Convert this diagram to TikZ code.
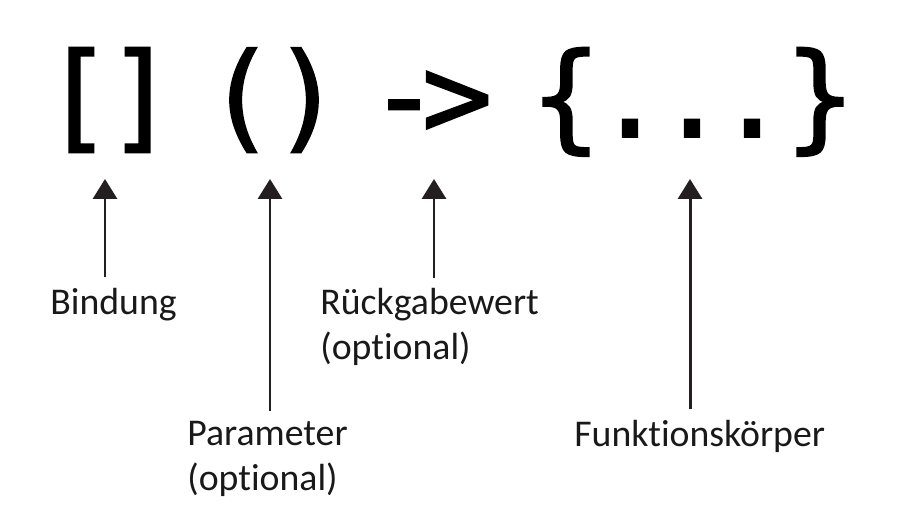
\documentclass[tikz,border=0pt]{standalone}
\usepackage{fontspec}
\setmainfont{Carlito}[Ligatures=NoCommon]
\newfontfamily\codefont{DejaVu Sans Mono}[FakeBold=1.5]
\usetikzlibrary{arrows.meta}
\definecolor{inkgray}{HTML}{231F20}
\tikzset{
  glyph/.style={font=\codefont\fontsize{67}{67}\selectfont, anchor=base, inner sep=0pt},
  desc/.style={font=\fontsize{21.5}{25.5}\selectfont, anchor=base west, align=left,
    inner xsep=0pt, inner ysep=5.7pt, text=black!90},
  up/.style={-{Triangle[width=13.6pt,length=11.3pt]}, line width=1.7pt, draw=inkgray, fill=inkgray}
}
\begin{document}
\begin{tikzpicture}[x=0.02cm, y=-0.02cm]
  \useasboundingbox (0,0) rectangle (909,520);
  % the lambda syntax
  \node[glyph] (lbrack) at (78,137) {[};
  \node[glyph] (rbrack) at (141,137) {]};
  \node[glyph] (lparen) at (241,137) {(};
  \node[glyph] (rparen) at (307,137) {)};
  \node[glyph] (minus) at (404,137) {-};
  \node[glyph] (greater) at (457,137) {>};
  \node[glyph] (lbrace) at (566,137) {\{};
  \node[glyph] (dot1) at (630,137) {.};
  \node[glyph] (dot2) at (692,137) {.};
  \node[glyph] (dot3) at (752,137) {.};
  \node[glyph] (rbrace) at (820,137) {\}};
  % labels (base = baseline of the last line)
  \node[desc] (bind) at (50,314) {Bindung};
  \node[desc] (param) at (187,490) {Parameter\\(optional)};
  \node[desc] (ret) at (320,359) {Rückgabewert\\(optional)};
  \node[desc] (body) at (574,446) {Funktionskörper};
  % arrow tips
  \coordinate (bindtip) at (105,179);
  \coordinate (paramtip) at (270,179);
  \coordinate (rettip) at (434,179);
  \coordinate (bodytip) at (690,179);
  \draw[up] (bind.north -| bindtip) -- (bindtip);
  \draw[up] (param.north -| paramtip) -- (paramtip);
  \draw[up] (ret.north -| rettip) -- (rettip);
  \draw[up] (body.north -| bodytip) -- (bodytip);
\end{tikzpicture}
\end{document}
